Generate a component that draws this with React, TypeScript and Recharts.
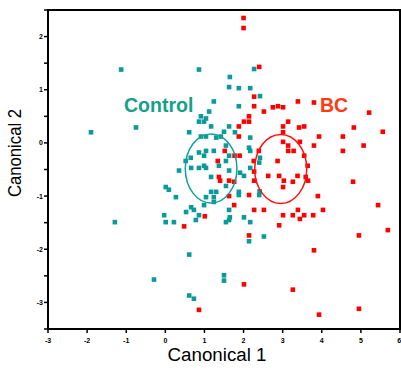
import { ScatterChart, Scatter, XAxis, YAxis, ReferenceArea, ReferenceDot } from 'recharts'

const sans = '"Liberation Sans", Arial, sans-serif'

const xTicks = [-3, -2, -1, 0, 1, 2, 3, 4, 5, 6]
const yTicks = [-3.5, -3, -2.5, -2, -1.5, -1, -0.5, 0, 0.5, 1, 1.5, 2, 2.5]

const controlX = [
  -1.13, 0.86, 2.27, 1.65, 1.63, 1.88, 2.17, 2.42, 1.24, 1.88, 1.12, 0.91, 1.04, 0.86, 0.99, 1.17, 1.63, -0.75,
  -1.9, 0.61, 1.5, 1.78, 0.91, 1.04, 1.3, 1.42, 2.17, 1.55, 2.14, 2.17, 0.86, 1.04, 1.24, 0.99, 1.63, 0.65,
  2.42, 0.52, 1.55, 2.4, 0.99, 1.37, 0.66, 0.86, 1.04, 2.17, 0.35, 1.63, 1.91, 2.01, 1.17, 1.55, 0.01, 0.09,
  1.17, 1.3, 1.88, 2.41, 2.4, 1.88, 0.27, 1.04, 1.24, 1.24, 0.99, 0.66, 0.73, 1.63, 0.53, -0.03, 0.86, 1.65,
  2.01, 0.78, 1.63, 0.01, 0.22, 1.55, 2.17, -1.29, 2.52, 2.14, 0.61, -0.29, 1.5, 1.5, 0.61, 0.73,
]
const controlY = [
  1.38, 1.38, 1.39, 1.24, 1.05, 1.03, 1.03, 0.88, 0.78, 0.69, 0.59, 0.5, 0.46, 0.4, 0.4, 0.31, 0.31, 0.29,
  0.2, 0.2, 0.21, 0.2, 0.12, 0.12, 0.1, 0.12, 0.1, -0.05, -0.09, -0.15, -0.18, -0.15, -0.15, -0.24, -0.24, -0.28,
  -0.28, -0.34, -0.34, -0.37, -0.43, -0.43, -0.47, -0.47, -0.47, -0.47, -0.52, -0.52, -0.56, -0.62, -0.64, -0.81, -0.83, -0.88,
  -0.92, -0.92, -0.92, -0.91, -0.98, -0.98, -1.02, -1.02, -1.02, -1.11, -1.17, -1.21, -1.26, -1.26, -1.3, -1.36, -1.36, -1.4,
  -1.4, -1.45, -1.45, -1.49, -1.49, -1.49, -1.49, -1.49, -1.76, -1.85, -2.1, -2.57, -2.49, -2.59, -2.87, -2.93,
]

const bcX = [
  2.0, 2.0, 2.4, 2.27, 2.27, 2.75, 2.88, 3.01, 3.39, 3.8, 2.52, 2.14, 2.01, 2.14, 3.14, 5.21, 1.88, 3.01,
  3.42, 3.55, 4.82, 5.56, 3.01, 1.88, 3.93, 4.54, 3.01, 3.14, 3.44, 3.8, 5.07, 3.14, 3.28, 4.54, 1.52, 1.77,
  1.9, 2.39, 3.55, 1.34, 2.26, 2.87, 3.64, 2.27, 2.63, 2.91, 3.38, 3.59, 1.37, 1.4, 1.63, 1.76, 2.27, 3.03,
  3.26, 3.65, 4.8, 3.01, 1.63, 2.14, 3.9, 1.76, 5.44, 2.27, 2.52, 3.39, 4.03, 3.01, 3.26, 3.55, 3.78, 3.44,
  2.91, 5.69, 2.14, 4.95, 3.8, 2.01, 3.26, 4.95, 3.93, 0.86, 1.01, 0.48,
]
const bcY = [
  2.35, 2.16, 1.43, 0.87, 0.69, 0.67, 0.69, 0.67, 0.78, 0.76, 0.59, 0.5, 0.4, 0.4, 0.4, 0.57, 0.31, 0.31,
  0.29, 0.31, 0.29, 0.21, 0.2, 0.12, 0.12, 0.12, 0.02, -0.05, 0.02, -0.05, -0.05, -0.15, -0.15, -0.15, -0.15, -0.24,
  -0.24, -0.15, -0.24, -0.34, -0.34, -0.34, -0.43, -0.54, -0.62, -0.62, -0.62, -0.64, -0.64, -0.71, -0.71, -0.73, -0.71, -0.71,
  -0.73, -0.71, -0.73, -0.83, -1.0, -0.98, -1.0, -1.17, -1.17, -1.26, -1.26, -1.26, -1.26, -1.36, -1.36, -1.36, -1.36, -1.43,
  -1.55, -1.64, -1.74, -1.74, -2.02, -2.66, -2.76, -3.12, -3.23, -3.14, -1.38, -1.57,
]

const controlData = controlX.map((x, i) => ({ x, y: controlY[i] }))
const bcData = bcX.map((x, i) => ({ x, y: bcY[i] }))

// group ellipses: centre and radii in data units
const controlEllipse = { cx: 1.17, cy: -0.48, rx: 0.66, ry: 0.65 }
const bcEllipse = { cx: 2.95, cy: -0.49, rx: 0.665, ry: 0.65 }

const W = 401
const H = 372
const M = { top: 10, right: 1, left: 0, bottom: 0 }
const yAxisW = 48
const xAxisH = 43
const pxX = (W - M.left - M.right - yAxisW) / 9
const pxY = (H - M.top - M.bottom - xAxisH) / 6

const square = (color: string) => (p: any) => (
  <rect x={p.cx - 2.3} y={p.cy - 2.3} width={4.6} height={4.6} fill={color} />
)

const ellipseShape = (e: typeof controlEllipse, color: string) => (p: any) => (
  <ellipse cx={p.cx} cy={p.cy} rx={e.rx * pxX} ry={e.ry * pxY} fill="none" stroke={color} strokeWidth={1.5} />
)

const tickStyle = { fontSize: 7, fontWeight: 700, fill: '#000', fontFamily: sans }

export default function App() {
  return (
    <div style={{ position: 'absolute', left: 0, top: 0, width: W, height: H, background: '#fff' }}>
      <ScatterChart width={W} height={H} margin={M}>
        <XAxis
          type="number" dataKey="x" domain={[-3, 6]} ticks={xTicks} height={xAxisH}
          tick={tickStyle} tickSize={4} tickMargin={5}
          axisLine={{ stroke: '#000', strokeWidth: 2 }} tickLine={{ stroke: '#000', strokeWidth: 1.5 }}
          allowDataOverflow
        />
        <YAxis
          type="number" dataKey="y" domain={[-3.5, 2.5]} ticks={yTicks} width={yAxisW}
          tick={tickStyle} tickSize={4} tickMargin={1} interval={0}
          tickFormatter={(v: number) => (Number.isInteger(v) ? String(v) : '')}
          axisLine={{ stroke: '#000', strokeWidth: 2 }} tickLine={{ stroke: '#000', strokeWidth: 1.5 }}
          allowDataOverflow
        />
        <ReferenceArea x1={-3} x2={6} y1={-3.5} y2={2.5} fill="none" stroke="#000" strokeWidth={2} />
        <Scatter data={controlData} shape={square('#0a9a9a')} isAnimationActive={false} />
        <Scatter data={bcData} shape={square('#ff0000')} isAnimationActive={false} />
        <ReferenceDot x={controlEllipse.cx} y={controlEllipse.cy} shape={ellipseShape(controlEllipse, '#12a0a0')} />
        <ReferenceDot x={bcEllipse.cx} y={bcEllipse.cy} shape={ellipseShape(bcEllipse, '#ff1010')} />
        <text x={124} y={111.5} fontFamily={sans} fontWeight={700} fontSize={19.5} fill="#15a08a">Control</text>
        <text x={320} y={111.5} fontFamily={sans} fontWeight={700} fontSize={19.5} fill="#ff3b14">BC</text>
        <text x={217} y={361} textAnchor="middle" fontFamily={sans} fontSize={18} fill="#000"
          textLength={99} lengthAdjust="spacingAndGlyphs">Canonical 1</text>
        <text transform="translate(20.5,153) rotate(-90)" textAnchor="middle" fontFamily={sans} fontSize={18} fill="#000"
          textLength={88} lengthAdjust="spacingAndGlyphs">Canonical 2</text>
      </ScatterChart>
    </div>
  )
}
